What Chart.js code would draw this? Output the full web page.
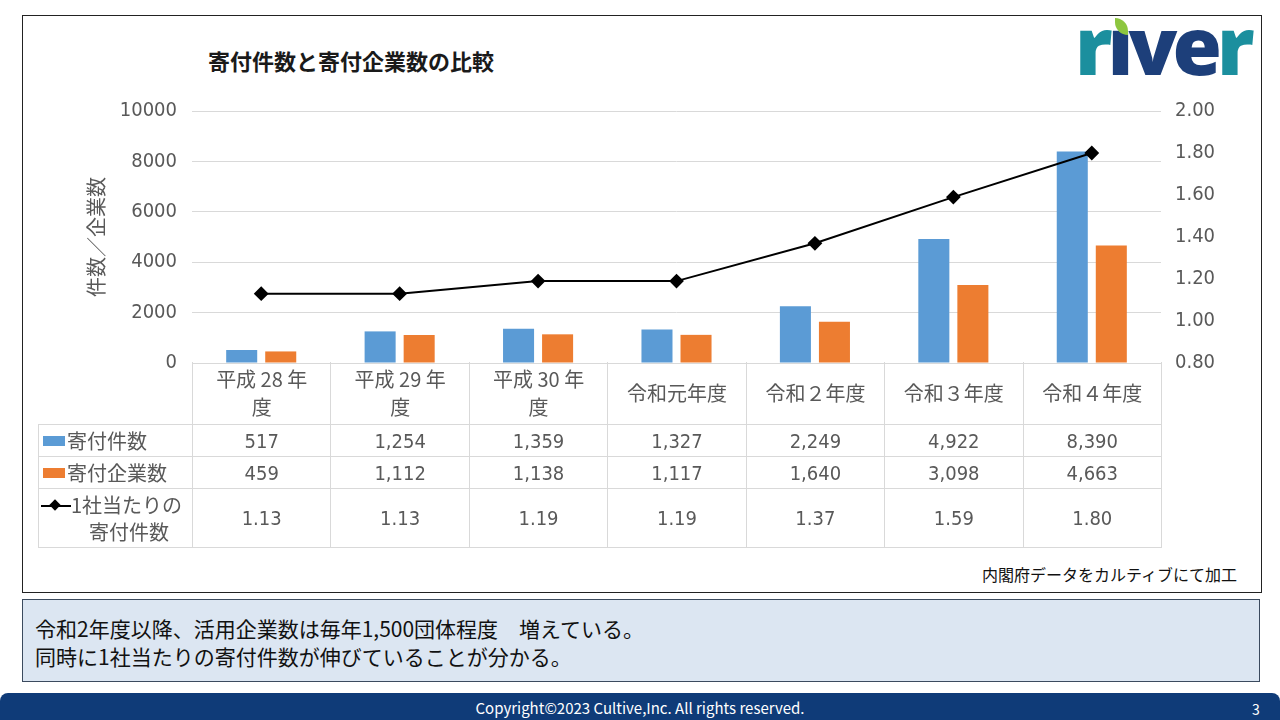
<!DOCTYPE html>
<html lang="ja">
<head>
<meta charset="utf-8">
<script src="https://cdn.jsdelivr.net/npm/chart.js@4.4.1/dist/chart.umd.min.js"></script>
<style>
  html, body { margin:0; padding:0; background:#fff; }
  body { width:1280px; height:720px; position:relative; overflow:hidden;
         font-family:"Noto Sans CJK JP", "Noto Sans", sans-serif; }
  #frame { position:absolute; left:22px; top:15px; width:1238px; height:576px; border:1px solid #222; }
  #title { position:absolute; left:208px; top:44px; font-size:22px; font-weight:bold; color:#1a1a1a; }
  #logo { position:absolute; left:1075px; top:4px; font-family:"Open Sans", "Noto Sans", sans-serif;
          font-weight:800; font-size:80px; letter-spacing:-5px; line-height:80px; }
  #logo .i { position:relative; }
  #leaf { position:absolute; left:7px; top:29px; width:13px; height:17px; background:#8dc63f;
          border-radius:0 13px 0 13px; }
  #chartBox { position:absolute; left:22px; top:84px; width:1240px; height:306px; }
  #tbl { position:absolute; left:38px; top:362px; width:1124px; table-layout:fixed; border-collapse:collapse; color:#595959;
         font-family:"Liberation Sans Narrow", "DejaVu Sans Condensed", "Noto Sans CJK JP", sans-serif; font-size:20px; }
  #tbl td { border:1px solid #d9d9d9; text-align:center; padding:0; line-height:26px; }
  #tbl td.lab { text-align:left; font-family:"Noto Sans CJK JP", sans-serif; }
  #tbl td.blank { border:none; }
  #tbl th { font-weight:normal; border:1px solid #d9d9d9; border-top:none; height:62px; padding:0;
            font-family:"Noto Sans CJK JP", sans-serif; line-height:28px; }
  .key { display:inline-block; width:22px; height:10px; vertical-align:middle; margin:0 2px 4px 4px; }
  #source { position:absolute; right:43px; top:562px; font-size:16px; color:#111; }
  #note { position:absolute; left:22px; top:599px; width:1238px; height:83px; background:#dce6f2;
          border:1px solid #3b4a5e; box-sizing:border-box; padding:14px 0 0 12px; font-size:21px; line-height:28px; color:#111; }
  #footer { position:absolute; left:0; top:693px; width:1280px; height:27px; background:#0f3b78;
            border-radius:8px 8px 0 0; color:#fff; font-size:15px; }
  #footer .c { position:absolute; left:0; width:1280px; text-align:center; top:4px; }
  #footer .p { position:absolute; left:1252px; top:6px; font-size:14px; }
</style>
</head>
<body>
<div id="frame"></div>
<div id="title">寄付件数と寄付企業数の比較</div>
<div id="logo"><span style="color:#1b8f9e">r</span><span class="i" style="color:#1d3f7a">ı<span id="leaf"></span></span><span style="color:#1d3f7a">v</span><span style="color:#1d3f7a">e</span><span style="color:#1b8f9e">r</span></div>
<div id="chartBox"><canvas id="myChart" width="1240" height="306"></canvas></div>
<table id="tbl"></table>
<div id="source">内閣府データをカルティブにて加工</div>
<div id="note">令和2年度以降、活用企業数は毎年1,500団体程度　増えている。<br>同時に1社当たりの寄付件数が伸びていることが分かる。</div>
<div id="footer"><div class="c">Copyright©2023 Cultive,Inc. All rights reserved.</div><div class="p">3</div></div>

<script>
var categories = [['平成 28 年', '度'], ['平成 29 年', '度'], ['平成 30 年', '度'], '令和元年度', '令和２年度', '令和３年度', '令和４年度'];
var donations = [517, 1254, 1359, 1327, 2249, 4922, 8390];
var companies = [459, 1112, 1138, 1117, 1640, 3098, 4663];
var perCompany = [1.13, 1.13, 1.19, 1.19, 1.37, 1.59, 1.80];
var seriesNames = ['寄付件数', '寄付企業数', '1社当たりの寄付件数'];

var tickFont = { family: '"Liberation Sans Narrow", "DejaVu Sans Condensed", "Noto Sans", sans-serif', size: 20 };

// data table under the plot
var tbl = document.getElementById('tbl');
var html = '<colgroup><col style="width:154px">';
categories.forEach(function(){ html += '<col>'; });
html += '</colgroup><tr><td class="blank"></td>';
categories.forEach(function(c){
  html += '<th>' + (Array.isArray(c) ? c.join('<br>') : c) + '</th>';
});
html += '</tr>';
html += '<tr style="height:32px"><td class="lab"><span class="key" style="background:#5b9bd5"></span>' + seriesNames[0] + '</td>';
donations.forEach(function(v){ html += '<td>' + v.toLocaleString('en-US') + '</td>'; });
html += '</tr><tr style="height:32px"><td class="lab"><span class="key" style="background:#ed7d31"></span>' + seriesNames[1] + '</td>';
companies.forEach(function(v){ html += '<td>' + v.toLocaleString('en-US') + '</td>'; });
html += '</tr><tr style="height:59px"><td class="lab" style="line-height:27px">'
  + '<span style="display:inline-block;width:30px;position:relative;vertical-align:middle;margin:0 0 4px 2px;height:12px">'
  + '<span style="position:absolute;left:0;right:0;top:5px;height:2px;background:#000"></span>'
  + '<span style="position:absolute;left:10px;top:1px;width:8px;height:8px;background:#000;transform:rotate(45deg)"></span></span>'
  + '1社当たりの<br><span style="padding-left:50px">寄付件数</span></td>';
perCompany.forEach(function(v){ html += '<td>' + v.toFixed(2) + '</td>'; });
html += '</tr>';
tbl.innerHTML = html;

var ctx = document.getElementById('myChart').getContext('2d');
var chart = new Chart(ctx, {
    type: 'bar',
    data: {
        labels: categories,
        datasets: [{
            type: 'line',
            label: seriesNames[2],
            data: perCompany,
            yAxisID: 'y1',
            borderColor: '#000',
            backgroundColor: '#000',
            borderWidth: 2,
            pointStyle: 'rectRot',
            pointRadius: 6,
            order: 0
        }, {
            label: seriesNames[0],
            data: donations,
            backgroundColor: '#5b9bd5',
            categoryPercentage: 0.564,
            barPercentage: 0.795,
            order: 1
        }, {
            label: seriesNames[1],
            data: companies,
            backgroundColor: '#ed7d31',
            categoryPercentage: 0.564,
            barPercentage: 0.795,
            order: 1
        }]
    },
    options: {
        responsive: false,
        animation: false,
        maintainAspectRatio: false,
        layout: { padding: { left: 60, right: 0, top: 14, bottom: 8 } },
        plugins: { legend: { display: false }, tooltip: { enabled: false } },
        scales: {
            x: {
                display: true,
                ticks: { display: false },
                grid: { display: false },
                border: { display: true, color: '#d9d9d9' }
            },
            y: {
                position: 'left',
                min: 0, max: 10000,
                ticks: { stepSize: 2000, color: '#595959', font: tickFont, padding: 15,
                         callback: function(v){ return String(v); } },
                grid: { color: '#d9d9d9', drawTicks: false },
                border: { display: false },
                title: { display: true, text: '件数／企業数', color: '#595959',
                         font: { family: '"Noto Sans CJK JP", sans-serif', size: 20 }, padding: 2 },
                afterFit: function(s){ s.width = 110; }
            },
            y1: {
                position: 'right',
                min: 0.8, max: 2.0,
                ticks: { stepSize: 0.2, color: '#595959', font: tickFont, padding: 14,
                         callback: function(v){ return Number(v).toFixed(2); } },
                grid: { drawOnChartArea: false, drawTicks: false },
                border: { display: false },
                afterFit: function(s){ s.width = 101; }
            }
        }
    }
});
</script>
</body>
</html>
